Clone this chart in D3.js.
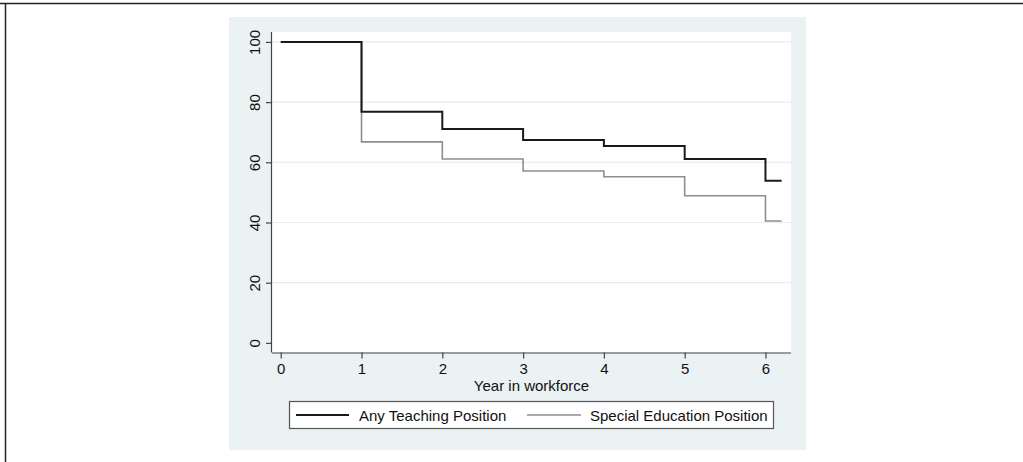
<!DOCTYPE html>
<html><head><meta charset="utf-8">
<script src="https://cdn.jsdelivr.net/npm/d3@7"></script>
<style>body{margin:0;background:#fff;}svg{display:block;}</style>
</head><body>
<svg id="c" width="1023" height="462"></svg>
<script>
const years = [0, 1, 2, 3, 4, 5, 6, 6.2];
const anyTeaching = [100, 76.8, 71.1, 67.4, 65.4, 61.1, 53.9, 53.9];
const specialEd = [100, 66.8, 61.1, 57.1, 55.2, 48.9, 40.5, 40.5];
const xTicks = [0, 1, 2, 3, 4, 5, 6];
const yTicks = [0, 20, 40, 60, 80, 100];
const seriesNames = ["Any Teaching Position", "Special Education Position"];
const xTitle = "Year in workforce";

const svg = d3.select("#c");
const font = "'Liberation Sans', Arial, sans-serif";

// outer frame (top & left)
svg.append("line").attr("x1",0).attr("x2",1023).attr("y1",3.5).attr("y2",3.5).attr("stroke","#222").attr("stroke-width",1.5);
svg.append("line").attr("x1",5.5).attr("x2",5.5).attr("y1",3).attr("y2",462).attr("stroke","#222").attr("stroke-width",1.5);

// panel background
svg.append("rect").attr("x",229).attr("y",17).attr("width",577).attr("height",433).attr("fill","#eaf2f3");

const L=272, R=791, T=32, B=352.5;
svg.append("rect").attr("x",L).attr("y",T).attr("width",R-L).attr("height",B-T).attr("fill","#fff");

const x = d3.scaleLinear().domain([-0.108, 6.316]).range([L, R]);
const y = d3.scaleLinear().domain([-3.2, 103.3]).range([B, T]);

// gridlines
svg.append("g").selectAll("line").data(yTicks.filter(d=>d>0)).join("line")
  .attr("x1",L).attr("x2",R).attr("y1",d=>y(d)).attr("y2",d=>y(d))
  .attr("stroke","#e6eef0").attr("stroke-width",1.2);

// axes
const xAxis = d3.axisBottom(x).tickValues(xTicks).tickFormat(d3.format("d")).tickSize(6).tickPadding(5).tickSizeOuter(0);
const gx = svg.append("g").attr("transform",`translate(0,${B})`).call(xAxis)
  .attr("font-family",font).attr("font-size",15);
gx.select(".domain").attr("d",`M${L},0.5H${R}`).attr("stroke","#444").attr("stroke-width",1.2);
gx.selectAll(".tick line").attr("stroke","#444").attr("stroke-width",1.2);
gx.selectAll(".tick text").style("font-size","15px").style("font-family",font).attr("fill","#111").attr("dy","0.71em");

const yAxis = d3.axisLeft(y).tickValues(yTicks).tickFormat(d3.format("d")).tickSize(6).tickSizeOuter(0);
const gy = svg.append("g").attr("transform",`translate(${L},0)`).call(yAxis)
  .attr("font-family",font).attr("font-size",15);
gy.select(".domain").attr("d",`M-0.5,${T}V${B}`).attr("stroke","#444").attr("stroke-width",1.2);
gy.selectAll(".tick line").attr("stroke","#444").attr("stroke-width",1.2);
gy.selectAll(".tick text")
  .style("font-size","15px").style("font-family",font).attr("fill","#111")
  .attr("x",null).attr("dy",null)
  .attr("text-anchor","middle")
  .attr("transform","translate(-12,0) rotate(-90)")
  .attr("y",0);

// axis title
svg.append("text").attr("x",(L+R)/2).attr("y",391).attr("text-anchor","middle")
  .style("font-family",font).style("font-size","15px").attr("fill","#111").text(xTitle);

// lines
const line = d3.line().x(d=>x(d[0])).y(d=>y(d[1])).curve(d3.curveStepAfter);
const dataA = years.map((t,i)=>[t, anyTeaching[i]]);
const dataS = years.map((t,i)=>[t, specialEd[i]]);
svg.append("path").datum(dataS).attr("d",line).attr("fill","none").attr("stroke","#8e8e8e").attr("stroke-width",1.6);
svg.append("path").datum(dataA).attr("d",line).attr("fill","none").attr("stroke","#1a1a1a").attr("stroke-width",2);

// legend
svg.append("rect").attr("x",289.5).attr("y",401.5).attr("width",484).attr("height",27).attr("fill","#fff").attr("stroke","#555").attr("stroke-width",1.2);
const leg = [{x1:296,x2:349,tx:359,c:"#1a1a1a",w:2,name:seriesNames[0]},{x1:527,x2:581,tx:590,c:"#8e8e8e",w:1.6,name:seriesNames[1]}];
leg.forEach(l=>{
  svg.append("line").attr("x1",l.x1).attr("x2",l.x2).attr("y1",415).attr("y2",415).attr("stroke",l.c).attr("stroke-width",l.w);
  svg.append("text").attr("x",l.tx).attr("y",421).style("font-family",font).style("font-size","15px").attr("fill","#111").text(l.name);
});
</script>
</body></html>
